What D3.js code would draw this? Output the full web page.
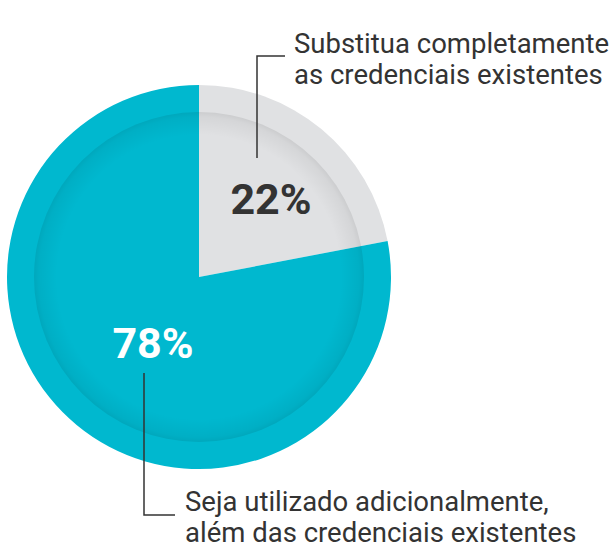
<!DOCTYPE html>
<html>
<head>
<meta charset="utf-8">
<script src="https://cdn.jsdelivr.net/npm/d3@7"></script>
<style>
  body { margin: 0; background: #fff; }
  text { font-family: Roboto, "Noto Sans", sans-serif; }
</style>
</head>
<body>
<div id="chart"></div>
<script>
// share of answers
var labels = ["Substitua completamente|as credenciais existentes", "Seja utilizado adicionalmente,|além das credenciais existentes"];
var values = [22, 78];
var colors = ["#e0e1e3", "#00b8cf"];
var pctColors = ["#333333", "#ffffff"];

var width = 611, height = 546;
var cx = 199, cy = 277, rOuter = 192, rInner = 165;

var svg = d3.select("#chart").append("svg")
    .attr("width", width)
    .attr("height", height);

var defs = svg.append("defs");
var grad = defs.append("radialGradient").attr("id", "innerShade")
    .attr("cx", "50%").attr("cy", "50%").attr("r", "50%");
grad.append("stop").attr("offset", "0.86").attr("stop-color", "#000").attr("stop-opacity", 0);
grad.append("stop").attr("offset", "0.97").attr("stop-color", "#000").attr("stop-opacity", 0.05);
grad.append("stop").attr("offset", "1").attr("stop-color", "#000").attr("stop-opacity", 0.09);

var pie = d3.pie().sort(null).value(function(d) { return d; });
var arcs = pie(values);

var g = svg.append("g").attr("transform", "translate(" + cx + "," + cy + ")");

var outerArc = d3.arc().innerRadius(0).outerRadius(rOuter);
g.selectAll("path.slice").data(arcs)
    .enter().append("path")
    .attr("class", "slice")
    .attr("d", outerArc)
    .attr("fill", function(d, i) { return colors[i]; });

// inner disc shading
g.append("circle")
    .attr("r", rInner)
    .attr("fill", "url(#innerShade)");

// percent labels
var pctPos = [[271, 214], [153, 358]];
svg.selectAll("text.pct").data(arcs)
    .enter().append("text")
    .attr("class", "pct")
    .attr("x", function(d, i) { return pctPos[i][0]; })
    .attr("y", function(d, i) { return pctPos[i][1]; })
    .attr("text-anchor", "middle")
    .attr("font-size", 43)
    .attr("font-weight", 700)
    .attr("fill", function(d, i) { return pctColors[i]; })
    .text(function(d) { return d.data + "%"; });

// leader lines
var leaders = ["M257,158 V56 H285", "M144,373 V515 H175"];
svg.selectAll("path.leader").data(leaders)
    .enter().append("path")
    .attr("class", "leader")
    .attr("d", function(d) { return d; })
    .attr("fill", "none")
    .attr("stroke", "#333")
    .attr("stroke-width", 1.5);

// category labels
var labelPos = [[294, 53], [185, 511]];
labels.forEach(function(l, i) {
    var t = svg.append("text")
        .attr("x", labelPos[i][0])
        .attr("y", labelPos[i][1])
        .attr("font-size", 27.5)
        .attr("fill", "#333");
    l.split("|").forEach(function(line, j) {
        t.append("tspan")
            .attr("x", labelPos[i][0])
            .attr("dy", j === 0 ? 0 : 31)
            .text(line);
    });
});
</script>
</body>
</html>
